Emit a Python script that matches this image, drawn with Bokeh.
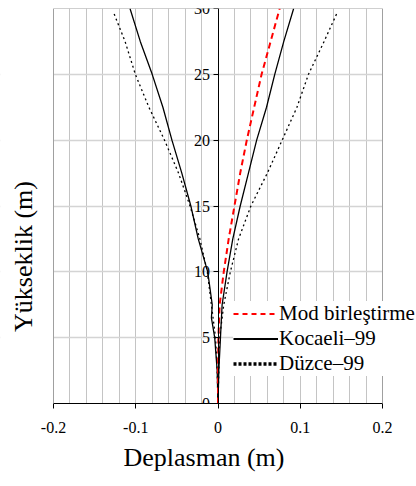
import math
from bokeh.plotting import figure
from bokeh.models import FixedTicker, Legend, LegendItem, Title, Span, BoxAnnotation, Label, LinearAxis
from bokeh.embed import file_html
from bokeh.resources import INLINE

# ---- data ----
mod_heights = [0, 2.5, 5, 7.5, 10, 12.5, 15, 17.5, 20, 22.5, 25, 27.5, 30]
mod_disp = [0, 0, 0.0005, 0.002, 0.007, 0.013, 0.020, 0.027, 0.035, 0.044, 0.053, 0.064, 0.075]

kocaeli_pos_heights = [0, 2.5, 5, 7.5, 10, 12.5, 15, 17.5, 20, 22.5, 25, 27.5, 30]
kocaeli_pos = [0, 0.001, 0.003, 0.005, 0.011, 0.018, 0.027, 0.037, 0.047, 0.059, 0.069, 0.080, 0.092]
kocaeli_neg_heights = [0, 2.5, 5, 6.5, 7.5, 10, 12.5, 15, 17.5, 20, 22.5, 25, 27.5, 30]
kocaeli_neg = [0, -0.001, -0.004, -0.008, -0.007, -0.0125, -0.024, -0.033, -0.044, -0.056, -0.067, -0.080, -0.0945, -0.107]

duzce_pos_heights = [0, 2.5, 5, 7.5, 10, 12.5, 15, 17.5, 20, 22.5, 25, 27.5, 29.7]
duzce_pos = [0, 0.001, 0.002, 0.007, 0.015, 0.025, 0.040, 0.060, 0.078, 0.096, 0.110, 0.129, 0.145]
duzce_neg_heights = [0, 2.5, 5, 7.5, 10, 12.5, 15, 17.5, 20, 22.5, 25, 27.5, 29.7]
duzce_neg = [0, -0.001, -0.003, -0.008, -0.013, -0.022, -0.034, -0.048, -0.065, -0.084, -0.1005, -0.113, -0.127]

x_min, x_max = -0.2, 0.2
y_min, y_max = 0, 30
x_ticks = [-0.2, -0.1, 0, 0.1, 0.2]
x_tick_labels = ["-0.2", "-0.1", "0", "0.1", "0.2"]
x_grid_ticks = [-0.18, -0.16, -0.14, -0.12, -0.1, -0.08, -0.06, -0.04, -0.02, 0,
                0.02, 0.04, 0.06, 0.08, 0.1, 0.12, 0.14, 0.16, 0.18]
y_ticks = [0, 5, 10, 15, 20, 25, 30]

series_labels = ["Mod birleştirme", "Kocaeli–99", "Düzce–99"]
x_title = "Deplasman (m)"
y_title = "Yükseklik (m)"

FONT = "Liberation Serif"

# ---- layout (pixels) ----
W, H = 416, 486
TOP, BOTTOM = 8, 83
PLOT_LEFT = 53          # pixel where x = -0.2 sits
PLOT_W = 329            # pixels for the -0.2 .. 0.2 span
FRAME_H = H - TOP - BOTTOM
ppu_x = PLOT_W / (x_max - x_min)
ppu_y = FRAME_H / (y_max - y_min)
# the frame covers the full page width; the area outside -0.2..0.2 is blanked
x_start = x_min - PLOT_LEFT / ppu_x
x_end = x_min + (W - PLOT_LEFT) / ppu_x

p = figure(width=W, height=H, x_range=(x_start, x_end), y_range=(y_min, y_max),
           output_backend="svg", toolbar_location=None,
           min_border_left=0, min_border_right=0, min_border_top=TOP, min_border_bottom=BOTTOM)

p.background_fill_color = "white"
p.border_fill_color = "white"
p.outline_line_color = None

# grids
p.xgrid.ticker = FixedTicker(ticks=x_grid_ticks)
p.xgrid.grid_line_color = "#c4c4c4"
p.xgrid.grid_line_width = 1
p.ygrid.ticker = FixedTicker(ticks=y_ticks)
p.ygrid.grid_line_color = "#d4d4d4"
p.ygrid.grid_line_width = 1.5

# blank the grid outside the -0.2..0.2 plot area
p.add_layout(BoxAnnotation(right=x_min, fill_color="white", fill_alpha=1.0,
                           line_color=None, level="underlay"))
p.add_layout(BoxAnnotation(left=x_max, fill_color="white", fill_alpha=1.0,
                           line_color=None, level="underlay"))

# x axis
p.xaxis.ticker = FixedTicker(ticks=x_ticks)
p.xaxis.bounds = (x_min, x_max)
p.xaxis.major_label_overrides = {t: l for t, l in zip(x_ticks, x_tick_labels)}
p.xaxis.minor_tick_line_color = None
p.xaxis.major_tick_in = 0
p.xaxis.major_tick_out = 5
p.xaxis.axis_line_color = "black"
p.xaxis.major_tick_line_color = "black"
p.xaxis.major_label_standoff = 13
p.xaxis.major_label_text_font = FONT
p.xaxis.major_label_text_font_size = "16px"
p.xaxis.major_label_text_color = "black"

# y axis at x = 0
p.yaxis.fixed_location = 0
p.yaxis.ticker = FixedTicker(ticks=y_ticks)
p.yaxis.minor_tick_line_color = None
p.yaxis.major_tick_in = 0
p.yaxis.major_tick_out = 5
p.yaxis.axis_line_color = "black"
p.yaxis.major_tick_line_color = "black"
p.yaxis.major_label_standoff = 3
p.yaxis.major_label_text_font = FONT
p.yaxis.major_label_text_font_size = "16px"
p.yaxis.major_label_text_color = "black"

# gray plot-area border (left, right, top)
for loc in (x_min, x_max):
    p.add_layout(Span(location=loc, dimension="height", line_color="#a0a0a0", line_width=1))
top_border = LinearAxis(fixed_location=y_max, bounds=(x_min, x_max), ticker=FixedTicker(ticks=[]),
                        axis_line_color="#a0a0a0", major_tick_line_color=None,
                        minor_tick_line_color=None, major_label_text_font_size="0px")
p.add_layout(top_border, "above")

# curves
p.line(duzce_neg, duzce_neg_heights, line_color="black", line_width=1.3, line_dash="2 3")
p.line(duzce_pos, duzce_pos_heights, line_color="black", line_width=1.3, line_dash="2 3")
p.line(kocaeli_neg, kocaeli_neg_heights, line_color="black", line_width=1.3)
p.line(kocaeli_pos, kocaeli_pos_heights, line_color="black", line_width=1.3)
p.line(mod_disp, mod_heights, line_color="#ff0000", line_width=2, line_dash="6 4")

# legend-only renderers (hidden copies with the legend's line styles)
lg_mod = p.line(mod_disp, mod_heights, line_color="#ff0000", line_width=2, line_dash="5 4", visible=False)
lg_koc = p.line(kocaeli_pos, kocaeli_pos_heights, line_color="black", line_width=2, visible=False)
lg_duz = p.line(duzce_pos, duzce_pos_heights, line_color="black", line_width=3.5, line_dash="3 2", visible=False)

legend = Legend(items=[LegendItem(label=series_labels[0], renderers=[lg_mod]),
                       LegendItem(label=series_labels[1], renderers=[lg_koc]),
                       LegendItem(label=series_labels[2], renderers=[lg_duz])],
                location=(PLOT_LEFT + 180, 27), padding=0, margin=0, spacing=0,
                glyph_width=45, glyph_height=25, label_height=25, label_standoff=1,
                label_text_font=FONT, label_text_font_size="21px", label_text_color="black",
                border_line_color=None, background_fill_color="white", background_fill_alpha=1.0,
                inactive_fill_alpha=0.0)
p.add_layout(legend, "center")

# y title (vertical, left of the plot area)
YT_PX_X, YT_PX_Y = 23, 256
p.add_layout(Label(x=x_min + (YT_PX_X - PLOT_LEFT) / ppu_x,
                   y=y_min + (H - BOTTOM - YT_PX_Y) / ppu_y,
                   text=y_title, angle=math.pi / 2, text_align="center", text_baseline="middle",
                   text_font=FONT, text_font_size="26px", text_color="black"))

# x title
tx = Title(text=x_title, align="left", offset=PLOT_LEFT + 70, text_font=FONT,
           text_font_size="26px", text_font_style="normal", text_color="black",
           standoff=10)
p.add_layout(tx, "below")

open("out.html", "w").write(file_html(p, INLINE))
